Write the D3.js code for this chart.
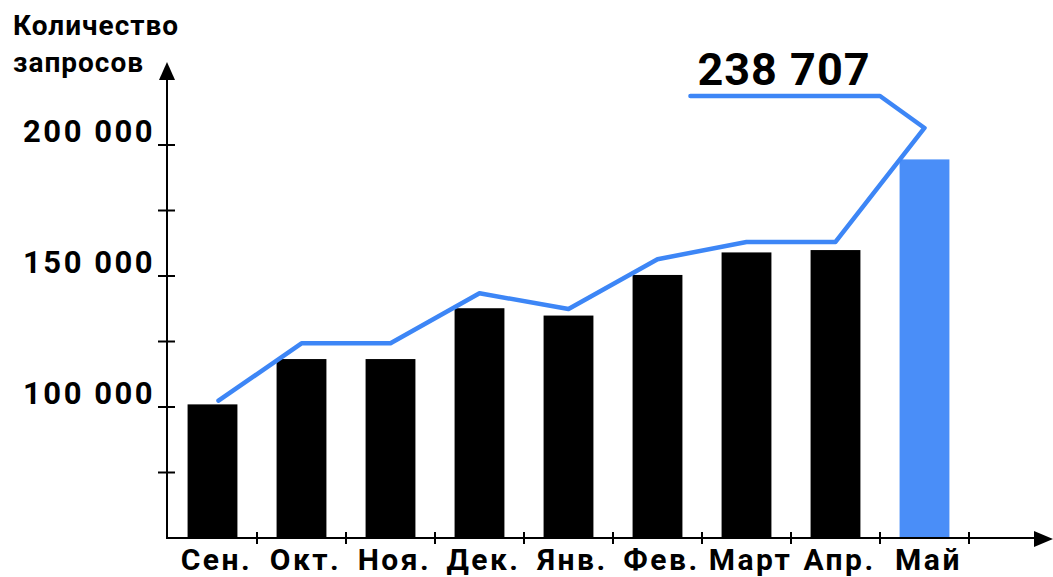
<!DOCTYPE html>
<html>
<head>
<meta charset="utf-8">
<script src="https://cdn.jsdelivr.net/npm/d3@7"></script>
<style>
  body { margin: 0; background: #fff; }
  text { font-family: Roboto, "Noto Sans", sans-serif; font-weight: 700; fill: #000; }
</style>
</head>
<body>
<svg width="1053" height="577"></svg>
<script>
// data
var months = ["Сен.", "Окт.", "Ноя.", "Дек.", "Янв.", "Фев.", "Март", "Апр.", "Май"];
var requests = [101000, 118300, 118300, 137700, 134900, 150400, 159000, 159900, 194500];
var trend = [102400, 124300, 124300, 143400, 137400, 156400, 163000, 163000, 206500];
var yTicks = [75000, 100000, 125000, 150000, 175000, 200000];
var yLabels = [100000, 150000, 200000];
var calloutLevel = 218700;
var calloutText = "238 707";
var titleLines = ["Количество", "запросов"];

var svg = d3.select("svg");
var blue = "#4a8ef8";
var lineBlue = "#3d86f6";

// scales
var x = d3.scaleBand().domain(months).range([168, 969]).paddingInner(0.44).paddingOuter(0.22);
var xi = d3.scaleLinear().domain([0, months.length]).range([168, 969]);
var y = d3.scaleLinear().domain([50000, 200000]).range([538, 145]);
var fmt = function(v) { return d3.format(",")(v).replace(/,/g, " "); };

// bars
svg.selectAll("rect.bar")
    .data(requests)
    .enter().append("rect")
    .attr("class", "bar")
    .attr("x", function(d, i) { return x(months[i]); })
    .attr("width", x.bandwidth())
    .attr("y", function(d) { return y(d); })
    .attr("height", function(d) { return y(50000) - y(d); })
    .style("fill", function(d, i) { return i == months.length - 1 ? blue : "#000"; });

// trend line + callout
var pts = trend.map(function(d, i) { return [x(months[i]) + x.bandwidth() / 2, y(d)]; });
pts[0][0] += 6;
pts.push([xi(8), y(calloutLevel)]);
pts.push([xi(5.87), y(calloutLevel)]);
svg.append("path")
    .attr("d", d3.line()(pts))
    .style("fill", "none")
    .style("stroke", lineBlue)
    .style("stroke-width", 4.5)
    .style("stroke-linejoin", "round")
    .style("stroke-linecap", "round");

svg.append("text")
    .attr("x", xi(5.87) + 7)
    .attr("y", y(calloutLevel) - 11)
    .style("font-size", "45px")
    .style("letter-spacing", "1px")
    .text(calloutText);

// axes
var axis = svg.append("g").style("stroke", "#000").style("stroke-width", 2);
axis.append("line").attr("x1", 167).attr("x2", 167).attr("y1", 75).attr("y2", y(50000) + 1);
axis.append("line").attr("x1", 167).attr("x2", 1040).attr("y1", y(50000)).attr("y2", y(50000));
axis.append("path").attr("d", "M167,62L159,80L175,80Z").style("fill", "#000").style("stroke", "none");
axis.append("path").attr("d", "M1053,539L1034,531L1034,547Z").style("fill", "#000").style("stroke", "none");

axis.selectAll("line.ytick")
    .data(yTicks)
    .enter().append("line")
    .attr("x1", 158).attr("x2", 175)
    .attr("y1", function(d) { return y(d); })
    .attr("y2", function(d) { return y(d); });

axis.selectAll("line.xtick")
    .data(d3.range(1, months.length + 1))
    .enter().append("line")
    .attr("x1", function(d) { return xi(d); })
    .attr("x2", function(d) { return xi(d); })
    .attr("y1", y(50000) - 6).attr("y2", y(50000) + 6);

svg.selectAll("text.ylab")
    .data(yLabels)
    .enter().append("text")
    .attr("x", 155)
    .attr("y", function(d) { return y(d) - 3; })
    .attr("text-anchor", "end")
    .style("font-size", "31px")
    .style("letter-spacing", "2.5px")
    .text(fmt);

svg.selectAll("text.xlab")
    .data(months)
    .enter().append("text")
    .attr("x", function(d) { return x(d) + x.bandwidth() / 2 + 4; })
    .attr("y", 570)
    .attr("text-anchor", "middle")
    .style("font-size", "30px")
    .style("letter-spacing", "2.5px")
    .text(function(d) { return d; });

svg.selectAll("text.title")
    .data(titleLines)
    .enter().append("text")
    .attr("x", 13)
    .attr("y", function(d, i) { return 35 + i * 37; })
    .style("font-size", "28px")
    .style("letter-spacing", "1px")
    .text(function(d) { return d; });
</script>
</body>
</html>
